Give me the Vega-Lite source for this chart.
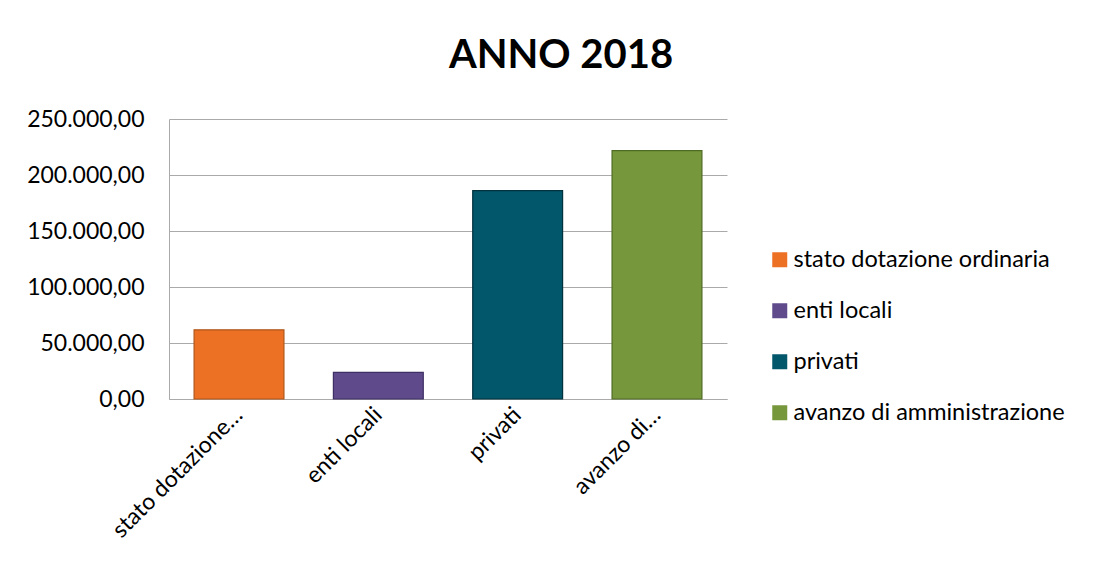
{
  "$schema": "https://vega.github.io/schema/vega-lite/v6.json",
  "autosize": {"type": "none"},
  "width": 558,
  "height": 280,
  "padding": {"left": 169, "top": 119, "right": 377, "bottom": 172},
  "background": "white",
  "title": {
    "text": "ANNO 2018",
    "font": "Lato",
    "fontSize": 40,
    "fontWeight": "bold",
    "color": "#000000",
    "anchor": "middle",
    "frame": "group",
    "dx": 113,
    "baseline": "alphabetic",
    "offset": 0
  },
  "data": {
    "values": [
      {"categoria": "stato dotazione ordinaria", "importo": 61800},
      {"categoria": "enti locali", "importo": 23700},
      {"categoria": "privati", "importo": 186000},
      {"categoria": "avanzo di amministrazione", "importo": 221700}
    ]
  },
  "mark": {"type": "bar", "strokeWidth": 1.2},
  "encoding": {
    "x": {
      "field": "categoria",
      "type": "nominal",
      "sort": null,
      "scale": {"paddingInner": 0.355, "paddingOuter": 0.18},
      "axis": {
        "title": null,
        "labelAngle": -45,
        "labelAlign": "right",
        "labelBaseline": "middle",
        "labelFont": "Lato",
        "labelFontSize": 23,
        "labelColor": "#000000",
        "labelPadding": 12,
        "labelLimit": 300,
        "ticks": false,
        "domainColor": "#aaaaaa",
        "labelExpr": "datum.label == 'stato dotazione ordinaria' ? 'stato dotazione…' : (datum.label == 'avanzo di amministrazione' ? 'avanzo di…' : datum.label)"
      }
    },
    "y": {
      "field": "importo",
      "type": "quantitative",
      "scale": {"domain": [0, 250000], "nice": false},
      "axis": {
        "title": null,
        "values": [0, 50000, 100000, 150000, 200000, 250000],
        "format": ",.2f",
        "labelFont": "Lato",
        "labelFontSize": 23,
        "labelColor": "#000000",
        "labelPadding": 25,
        "ticks": false,
        "domain": true,
        "domainColor": "#aaaaaa",
        "grid": true,
        "gridColor": "#aaaaaa",
        "gridWidth": 1
      }
    },
    "color": {
      "field": "categoria",
      "type": "nominal",
      "sort": null,
      "scale": {
        "domain": ["stato dotazione ordinaria", "enti locali", "privati", "avanzo di amministrazione"],
        "range": ["#ED7125", "#5F4B8B", "#03576B", "#77973D"]
      },
      "legend": {
        "title": null,
        "orient": "none",
        "legendX": 599,
        "legendY": 129,
        "padding": 0,
        "symbolType": "square",
        "symbolSize": 225,
        "symbolStrokeWidth": 0,
        "labelFont": "Lato",
        "labelFontSize": 23.5,
        "labelColor": "#000000",
        "labelOffset": 2,
        "rowPadding": 26,
        "labelLimit": 400
      }
    },
    "stroke": {
      "field": "categoria",
      "type": "nominal",
      "sort": null,
      "scale": {
        "domain": ["stato dotazione ordinaria", "enti locali", "privati", "avanzo di amministrazione"],
        "range": ["#B0561B", "#3E3064", "#01323E", "#4E6B22"]
      },
      "legend": null
    }
  },
  "config": {
    "locale": {
      "number": {"decimal": ",", "thousands": ".", "grouping": [3], "currency": ["€", ""]}
    },
    "view": {"stroke": null}
  }
}
